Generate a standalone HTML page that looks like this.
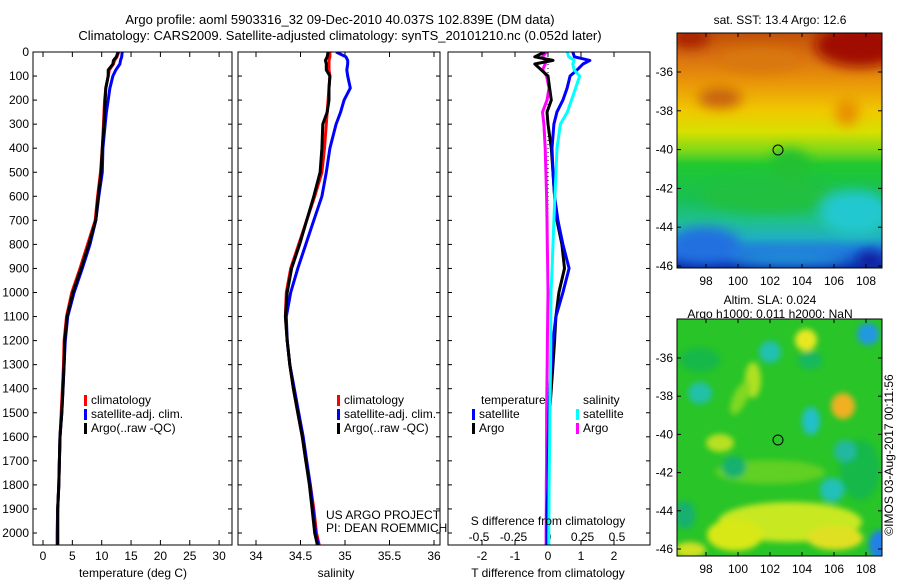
<!DOCTYPE html>
<html><head><meta charset="utf-8">
<style>
html,body{margin:0;padding:0;background:#fff;}
svg{display:block;font-family:"Liberation Sans",sans-serif;}
</style></head>
<body>
<svg id="fig" width="900" height="580" viewBox="0 0 900 580" xmlns="http://www.w3.org/2000/svg">
<defs>
  <filter id="blur4" x="-50%" y="-50%" width="200%" height="200%"><feGaussianBlur stdDeviation="3"/></filter>
  <filter id="blur8" x="-50%" y="-50%" width="200%" height="200%"><feGaussianBlur stdDeviation="6"/></filter>
  <linearGradient id="sstGrad" x1="0" y1="0" x2="0" y2="1">
    <stop offset="0" stop-color="#c05008"/>
    <stop offset="0.1" stop-color="#d87010"/>
    <stop offset="0.22" stop-color="#eb9a08"/>
    <stop offset="0.33" stop-color="#f0c800"/>
    <stop offset="0.42" stop-color="#d8e000"/>
    <stop offset="0.5" stop-color="#80d818"/>
    <stop offset="0.56" stop-color="#20c830"/>
    <stop offset="0.7" stop-color="#18c050"/>
    <stop offset="0.8" stop-color="#20c090"/>
    <stop offset="0.87" stop-color="#20b0c0"/>
    <stop offset="0.93" stop-color="#2070e0"/>
    <stop offset="1" stop-color="#0828a8"/>
  </linearGradient>
  <clipPath id="clipTop"><rect x="677" y="33" width="205" height="235"/></clipPath>
  <clipPath id="clipBot"><rect x="677" y="319" width="205" height="237"/></clipPath>
  <clipPath id="clipP1"><rect x="33" y="52" width="199" height="493"/></clipPath>
  <clipPath id="clipP2"><rect x="238" y="52" width="202" height="493"/></clipPath>
  <clipPath id="clipP3"><rect x="448" y="52" width="202" height="493"/></clipPath>
</defs>

<text x="340" y="24" text-anchor="middle" font-size="13">Argo profile: aoml 5903316_32 09-Dec-2010 40.037S 102.839E (DM data)</text>
<text x="340" y="40" text-anchor="middle" font-size="13">Climatology: CARS2009. Satellite-adjusted climatology: synTS_20101210.nc (0.052d later)</text>

<g id="p1"></g>
<g id="p2"></g>
<g id="p3"></g>

<!-- top map -->
<g>
  <text x="780" y="24" text-anchor="middle" font-size="12">sat. SST: 13.4  Argo: 12.6</text>
  <g clip-path="url(#clipTop)">
    <rect x="677" y="33" width="205" height="235" fill="url(#sstGrad)"/>
    <g filter="url(#blur8)">
      <ellipse cx="860" cy="45" rx="45" ry="22" fill="#a00800"/>
      <ellipse cx="690" cy="38" rx="20" ry="10" fill="#a82000"/>
      <ellipse cx="720" cy="98" rx="22" ry="10" fill="#c86010"/>
      <ellipse cx="847" cy="112" rx="12" ry="14" fill="#e89000"/>
      <ellipse cx="760" cy="60" rx="40" ry="12" fill="#d87810"/>
      <ellipse cx="790" cy="165" rx="20" ry="16" fill="#20c030"/>
      <ellipse cx="770" cy="195" rx="70" ry="18" fill="#20c040"/>
      <ellipse cx="855" cy="212" rx="35" ry="22" fill="#20c8d0"/>
      <ellipse cx="705" cy="245" rx="35" ry="18" fill="#2070e0"/>
      <ellipse cx="870" cy="260" rx="14" ry="10" fill="#0820a0"/>
      <ellipse cx="790" cy="258" rx="60" ry="8" fill="#2090d8"/>
    </g>
  </g>
  <rect x="677" y="33" width="205" height="235" fill="none" stroke="#000"/>
  <circle cx="778" cy="150" r="5" fill="none" stroke="#000"/>
  <g id="topMapAxes"></g>
</g>

<!-- bottom map -->
<g>
  <text x="770" y="304" text-anchor="middle" font-size="12">Altim. SLA: 0.024</text>
  <text x="770" y="318" text-anchor="middle" font-size="12">Argo h1000: 0.011 h2000: NaN</text>
  <g clip-path="url(#clipBot)">
    <rect x="677" y="319" width="205" height="237" fill="#28c428"/>
    <g filter="url(#blur4)">
      <ellipse cx="700" cy="360" rx="20" ry="12" fill="#18b848"/>
      <ellipse cx="860" cy="470" rx="20" ry="30" fill="#18b848"/>
      <ellipse cx="770" cy="472" rx="55" ry="12" fill="#60d020"/>
      <ellipse cx="790" cy="522" rx="72" ry="20" fill="#c8e820"/>
      <ellipse cx="735" cy="535" rx="28" ry="16" fill="#d8e818"/>
      <ellipse cx="835" cy="538" rx="28" ry="12" fill="#e0e020"/>
      <ellipse cx="690" cy="550" rx="16" ry="8" fill="#d0e020"/>
      <ellipse cx="806" cy="340" rx="11" ry="11" fill="#e8e820"/>
      <ellipse cx="843" cy="406" rx="12" ry="13" fill="#f0b020"/>
      <ellipse cx="753" cy="380" rx="8" ry="18" fill="#b0e020"/>
      <ellipse cx="720" cy="443" rx="14" ry="9" fill="#b8e020"/>
      <ellipse cx="740" cy="398" rx="7" ry="18" fill="#80d820" transform="rotate(25 740 398)"/>
      <ellipse cx="770" cy="352" rx="11" ry="11" fill="#20c0b0"/>
      <ellipse cx="700" cy="393" rx="12" ry="11" fill="#20c0a8"/>
      <ellipse cx="811" cy="421" rx="9" ry="14" fill="#20c0c8"/>
      <ellipse cx="845" cy="451" rx="11" ry="11" fill="#20b8a0"/>
      <ellipse cx="832" cy="490" rx="12" ry="12" fill="#20c0b8"/>
      <ellipse cx="868" cy="334" rx="11" ry="11" fill="#2098e0"/>
      <ellipse cx="880" cy="545" rx="11" ry="15" fill="#2080e8"/>
      <ellipse cx="734" cy="467" rx="12" ry="11" fill="#18b070"/>
      <ellipse cx="685" cy="515" rx="10" ry="14" fill="#18b070"/>
      <ellipse cx="810" cy="360" rx="12" ry="9" fill="#18b860"/>
    </g>
  </g>
  <rect x="677" y="319" width="205" height="237" fill="none" stroke="#000"/>
  <circle cx="778" cy="440" r="5" fill="none" stroke="#000"/>
  <g id="botMapAxes"></g>
</g>

<text transform="translate(893,455) rotate(-90)" text-anchor="middle" font-size="12">©IMOS 03-Aug-2017 00:11:56</text>

<script>
const depths = [0,20,35,50,75,100,150,200,250,300,400,500,600,700,800,900,1000,1100,1200,1300,1400,1500,1600,1700,1800,1900,2000,2050];
const depthTicks = [0,100,200,300,400,500,600,700,800,900,1000,1100,1200,1300,1400,1500,1600,1700,1800,1900,2000];
const tempClim = [12.9,12.6,12.2,12.0,11.3,11.1,10.7,10.5,10.4,10.3,10.1,9.8,9.3,8.9,7.6,6.3,4.9,4.0,3.6,3.5,3.3,3.1,2.9,2.8,2.7,2.5,2.4,2.4];
const tempSat = [13.5,13.4,13.2,13.1,12.4,11.9,11.4,11.1,10.8,10.6,10.2,10.1,9.5,9.0,8.0,6.7,5.3,4.2,3.8,3.6,3.4,3.2,2.9,2.8,2.7,2.5,2.5,2.5];
const tempArgo = [12.8,12.5,12.0,11.9,11.1,11.1,10.7,10.6,10.5,10.4,10.1,9.9,9.4,9.0,7.8,6.5,5.1,4.1,3.7,3.6,3.4,3.2,2.9,2.8,2.7,2.5,2.5,2.5];
const tempTicks = [0,5,10,15,20,25,30];
const salClim = [34.83,34.83,34.82,34.82,34.82,34.83,34.82,34.81,34.80,34.79,34.77,34.74,34.66,34.57,34.48,34.39,34.34,34.33,34.35,34.38,34.42,34.47,34.52,34.56,34.61,34.65,34.68,34.71];
const salSat = [34.90,35.01,35.03,35.03,35.02,35.03,35.06,34.99,34.95,34.90,34.83,34.79,34.74,34.65,34.56,34.47,34.39,34.34,34.35,34.38,34.43,34.48,34.53,34.57,34.61,34.64,34.67,34.70];
const salArgo = [34.81,34.80,34.78,34.79,34.79,34.83,34.82,34.82,34.80,34.75,34.74,34.72,34.65,34.57,34.49,34.40,34.35,34.33,34.35,34.38,34.42,34.47,34.52,34.56,34.60,34.63,34.66,34.69];
const salTicks = [34,34.5,35,35.5,36];
const tdiffSat = [0.75,0.8,1.27,1.06,0.88,0.67,0.58,0.45,0.27,0.18,0.12,0.15,0.2,0.3,0.45,0.64,0.45,0.24,0.15,0.1,0.06,0.03,0.01,0,0,-0.03,-0.03,-0.03];
const tdiffArgo = [-0.1,-0.4,0.15,-0.4,-0.2,0,0.05,0.1,-0.03,0,0.1,0.15,0.2,0.27,0.42,0.5,0.33,0.24,0.2,0.15,0.1,0.05,0.03,0.02,0.02,0,0,0];
const sdiffSat = [0.14,0.15,0.19,0.18,0.19,0.23,0.2,0.17,0.14,0.09,0.065,0.058,0.05,0.043,0.036,0.03,0.022,0.02,0.02,0.018,0.016,0.014,0.012,0.01,0.008,0.007,0.006,0.006];
const sdiffArgo = [-0.01,-0.04,-0.02,-0.02,-0.04,-0.01,0.007,-0.007,-0.04,-0.03,-0.02,-0.015,-0.01,-0.007,-0.005,-0.002,0,-0.002,-0.004,-0.006,-0.008,-0.01,-0.01,-0.01,-0.012,-0.012,-0.014,-0.014];
const tdiffTicks = [-2,-1,0,1,2];
const sdiffTicks = [-0.5,-0.25,0,0.25,0.5];
const latTicks = [-36,-38,-40,-42,-44,-46];
const lonTicks = [98,100,102,104,106,108];

const NS = 'http://www.w3.org/2000/svg';
function mk(tag, attrs, parent){ const e=document.createElementNS(NS,tag); for(const k in attrs) e.setAttribute(k,attrs[k]); parent.appendChild(e); return e; }
const yD = d => 52 + d*0.2405;
const xT = t => 43 + t*5.87;
const xS = s => 256 + (s-34)*89;
const xTD = v => 548 + v*33;
const xSD = v => 548 + v*138;

function series(g, vals, xf, color, name, clip){
  const pts = vals.map((v,i)=> xf(v).toFixed(1)+','+yD(depths[i]).toFixed(1)).join(' ');
  const p = mk('polyline',{points:pts,fill:'none',stroke:color,'stroke-width':3,'stroke-linejoin':'round','clip-path':clip},g);
  
  
}
function box(g,x0,x1){
  mk('rect',{x:x0,y:52,width:x1-x0,height:493,fill:'none',stroke:'#000'},g);
}
function depthAxis(g,x0,x1,labels){
  depthTicks.forEach(d=>{
    const y=yD(d);
    mk('line',{x1:x0,y1:y,x2:x0+4,y2:y,stroke:'#000'},g);
    mk('line',{x1:x1,y1:y,x2:x1-4,y2:y,stroke:'#000'},g);
    if(labels){ const t=mk('text',{x:x0-4,y:y+4,'text-anchor':'end','font-size':12},g); t.textContent=d;
        }
  });
}
function xAxis(g,ticks,xf,ylab,labelY){
  ticks.forEach(v=>{
    const x=xf(v);
    mk('line',{x1:x,y1:52,x2:x,y2:57,stroke:'#000'},g);
    mk('line',{x1:x,y1:545,x2:x,y2:540,stroke:'#000'},g);
    const t=mk('text',{x:x,y:labelY,'text-anchor':'middle','font-size':12},g); t.textContent=v;
     
  });
}
function txt(g,x,y,s,name,anchor){
  const t=mk('text',{x:x,y:y,'font-size':12,'text-anchor':anchor||'start'},g); t.textContent=s;
  
  
  return t;
}
function legend(g,x,y,color,label,name){
  mk('rect',{x:x,y:y-9,width:3,height:11,fill:color},g);
  const t=txt(g,x+7,y,label,name);
  return t;
}

const p1=document.getElementById('p1');
depthAxis(p1,33,232,true);
xAxis(p1,tempTicks,xT,'',560);
series(p1,tempClim,xT,'#ff0000','temp-climatology-line','url(#clipP1)');
series(p1,tempSat,xT,'#0000ff','temp-satellite-line','url(#clipP1)');
series(p1,tempArgo,xT,'#000','temp-argo-line','url(#clipP1)');
box(p1,33,232);
txt(p1,133,577,'temperature (deg C)','temperature-axis-title','middle');
legend(p1,84,404,'#ff0000','climatology','legend-climatology');
legend(p1,84,418,'#0000ff','satellite-adj. clim.','legend-satellite');
legend(p1,84,432,'#000','Argo(..raw -QC)','legend-argo');

const p2=document.getElementById('p2');
depthAxis(p2,238,440,false);
xAxis(p2,salTicks,xS,'',560);
series(p2,salClim,xS,'#ff0000','sal-climatology-line','url(#clipP2)');
series(p2,salSat,xS,'#0000ff','sal-satellite-line','url(#clipP2)');
series(p2,salArgo,xS,'#000','sal-argo-line','url(#clipP2)');
box(p2,238,440);
txt(p2,336,577,'salinity','salinity-axis-title','middle');
legend(p2,337,404,'#ff0000','climatology','legend-climatology');
legend(p2,337,418,'#0000ff','satellite-adj. clim.','legend-satellite');
legend(p2,337,432,'#000','Argo(..raw -QC)','legend-argo');
txt(p2,326,519,'US ARGO PROJECT','project-credit');
txt(p2,326,532,'PI: DEAN ROEMMICH','pi-credit');

const p3=document.getElementById('p3');
depthAxis(p3,448,650,false);
tdiffTicks.forEach(v=>{const x=xTD(v); mk('line',{x1:x,y1:52,x2:x,y2:57,stroke:'#000'},p3); mk('line',{x1:x,y1:545,x2:x,y2:540,stroke:'#000'},p3);
  const t=txt(p3,x,560,String(v),'tdiff-tick-label','middle');});
sdiffTicks.forEach(v=>{txt(p3,xSD(v),541,String(v),'sdiff-tick-label','middle');});
mk('line',{x1:548,y1:52,x2:548,y2:545,stroke:'#000','stroke-dasharray':'1,3'},p3);
series(p3,sdiffArgo,xSD,'#ff00ff','sdiff-argo-line','url(#clipP3)');
series(p3,tdiffArgo,xTD,'#000','tdiff-argo-line','url(#clipP3)');
series(p3,tdiffSat,xTD,'#0000ff','tdiff-satellite-line','url(#clipP3)');
series(p3,sdiffSat,xSD,'#00ffff','sdiff-satellite-line','url(#clipP3)');
box(p3,448,650);
txt(p3,548,577,'T difference from climatology','tdiff-axis-title','middle');
txt(p3,548,525,'S difference from climatology','sdiff-axis-title','middle');
txt(p3,481,404,'temperature','legend-temperature-header');
txt(p3,583,404,'salinity','legend-salinity-header');
legend(p3,472,418,'#0000ff','satellite','legend-t-satellite');
legend(p3,472,432,'#000','Argo','legend-t-argo');
legend(p3,576,418,'#00ffff','satellite','legend-s-satellite');
legend(p3,576,432,'#ff00ff','Argo','legend-s-argo');

function mapAxes(id,top,bottom,yLat){
  const g=document.getElementById(id);
  latTicks.forEach(l=>{const y=yLat(l);
    mk('line',{x1:677,y1:y,x2:681,y2:y,stroke:'#000'},g); mk('line',{x1:882,y1:y,x2:878,y2:y,stroke:'#000'},g);
    txt(g,673,y+4,String(l),'lat-tick-label','end');});
  lonTicks.forEach(l=>{const x=706+(l-98)*16;
    mk('line',{x1:x,y1:bottom,x2:x,y2:bottom-4,stroke:'#000'},g); mk('line',{x1:x,y1:top,x2:x,y2:top+4,stroke:'#000'},g);
    txt(g,x,bottom+17,String(l),'lon-tick-label','middle');});
}
mapAxes('topMapAxes',33,268,l=>72+(-36-l)*19.4);
mapAxes('botMapAxes',319,556,l=>358+(-36-l)*19.1);
</script>
</svg>
</body></html>
